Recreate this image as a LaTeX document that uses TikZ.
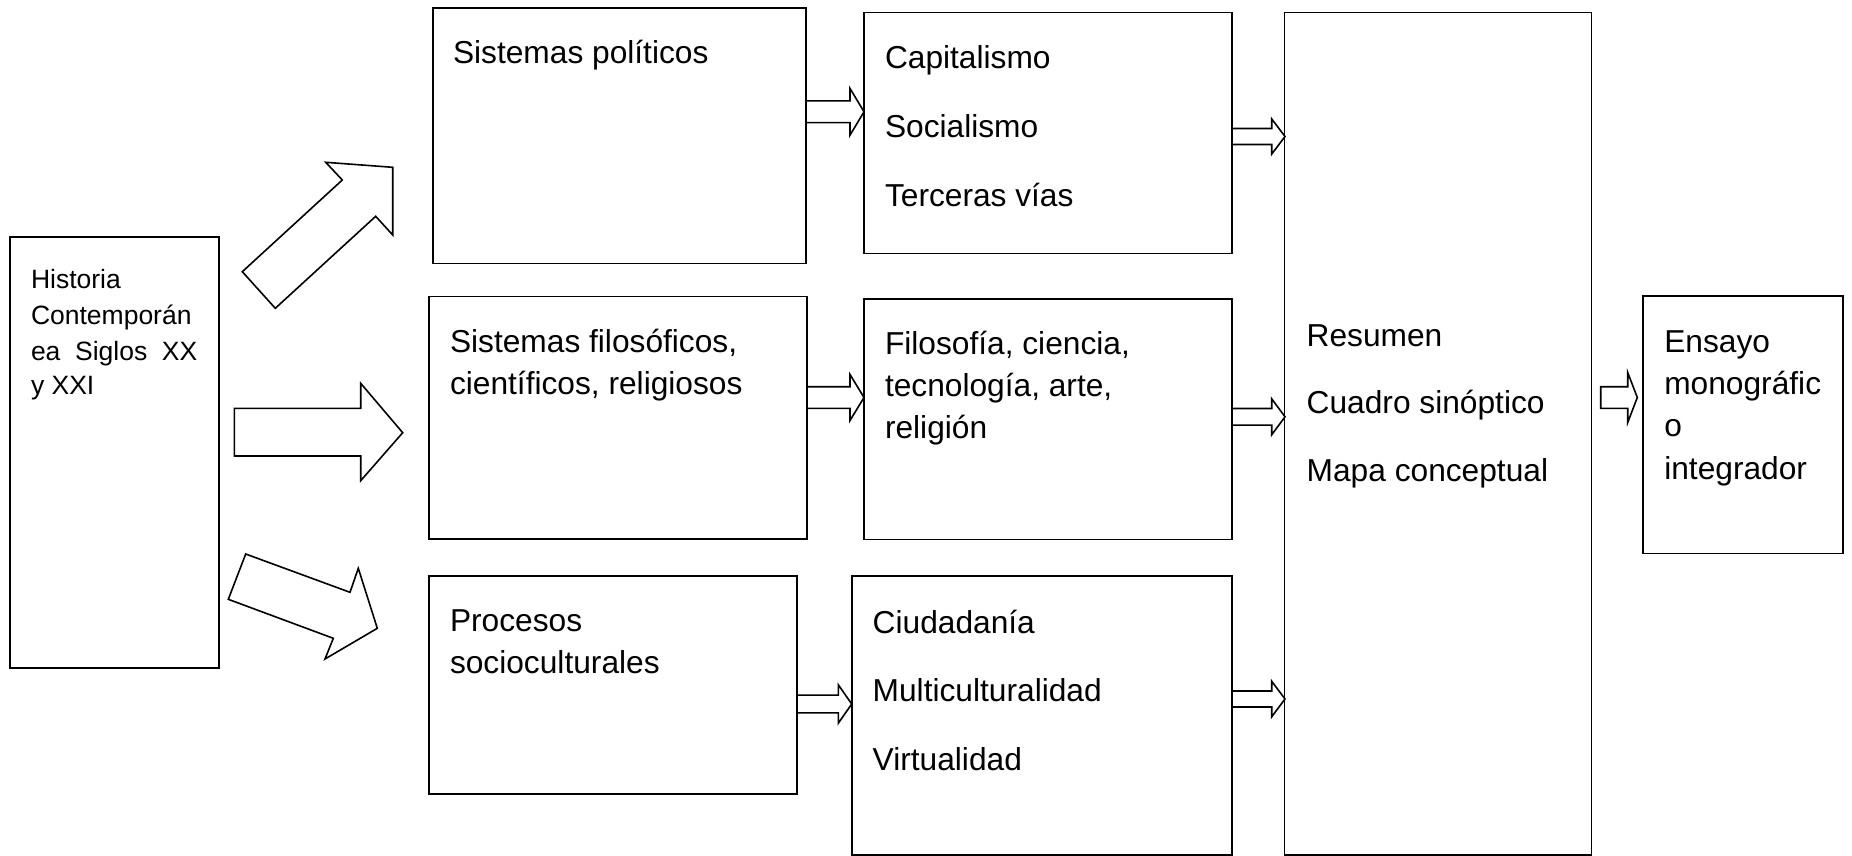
\documentclass[tikz,border=0pt]{standalone}
\usepackage{fontspec}
\setmainfont{Liberation Sans}[Ligatures=NoCommon]
\usetikzlibrary{calc}
\newcommand\mybox[5]{\node[boxst, minimum width={#4-#2}, minimum height={#5-#3}] (#1) at (#2,#3) {};}
% #1 start point, #2 length, #3 shaft half height, #4 head half height, #5 head length
\newcommand\blkarrow[5]{\draw[barrow] #1 ++(0,-#3) -- ++({#2-#5},0) -- ++(0,{-(#4-#3)}) -- ++(#5,#4) -- ++(-#5,#4) -- ++(0,{-(#4-#3)}) -- ++({-(#2-#5)},0) -- cycle;}
\begin{document}
\begin{tikzpicture}[x=1pt,y=-1pt,
  boxst/.style={draw, line width=1.6pt, inner sep=0pt, outer sep=0pt, anchor=north west},
  txt/.style={inner sep=0pt, outer sep=0pt, anchor=base west, font=\fontsize{31.7}{38}\selectfont},
  smalltxt/.style={txt, font=\fontsize{26.5}{32}\selectfont},
  barrow/.style={draw, line width=1.6pt, fill=white, line join=miter}]
\useasboundingbox[fill=white] (0,0) rectangle (1852,856);

% boxes
\mybox{hist}{10}{237}{219}{668}
\mybox{sp}{433}{8}{806}{263.5}
\mybox{sf}{429}{296.5}{807}{539}
\mybox{ps}{429}{576}{797}{794}
\mybox{cap}{864}{12.7}{1232}{253.5}
\mybox{fil}{864}{299}{1232}{539.3}
\mybox{ciu}{851.7}{576}{1232}{855}
\mybox{res}{1284.5}{12.7}{1591.5}{855}
\mybox{ens}{1642.7}{296}{1842.7}{553.3}

% texts
\node[smalltxt] (h1) at (31,288.5) {Historia};
\node[smalltxt] (h2) at (31,324) {Contemporán};
\node[smalltxt] (h3) at (31,360) {\hbox to 166.3pt{ea\hfill Siglos\hfill XX}};
\node[smalltxt] (h4) at (31,394) {y XXI};

\node[txt] (sp1) at (453,64) {Sistemas políticos};
\node[txt] (cap1) at (885,68.3) {Capitalismo};
\node[txt] (cap2) at (885,137.7) {Socialismo};
\node[txt] (cap3) at (885,206.7) {Terceras vías};
\node[txt] (sf1) at (450,352.7) {Sistemas filosóficos,};
\node[txt] (sf2) at (450,394.3) {científicos, religiosos};
\node[txt] (fil1) at (885,354) {Filosofía, ciencia,};
\node[txt] (fil2) at (885,396.7) {tecnología, arte,};
\node[txt] (fil3) at (885,438.3) {religión};
\node[txt] (ps1) at (450,631.7) {Procesos};
\node[txt] (ps2) at (450,673.3) {socioculturales};
\node[txt] (ciu1) at (872.7,633.3) {Ciudadanía};
\node[txt] (ciu2) at (872.7,701.7) {Multiculturalidad};
\node[txt] (ciu3) at (872.7,770.7) {Virtualidad};
\node[txt] (res1) at (1306.7,346) {Resumen};
\node[txt] (res2) at (1306.7,413.3) {Cuadro sinóptico};
\node[txt] (res3) at (1306.7,481.7) {Mapa conceptual};
\node[txt] (ens1) at (1664.3,352.7) {Ensayo};
\node[txt] (ens2) at (1664.3,394.3) {monográfic};
\node[txt] (ens3) at (1664.3,436.7) {o};
\node[txt] (ens4) at (1664.3,479.3) {integrador};

% big block arrows from Historia
\draw[barrow] (242.3,271.7) -- (342.3,180) -- (325.7,162.3) -- (392.7,167.3) -- (392.7,235) -- (375.7,216.3) -- (275.3,308.3) -- cycle;
\draw[barrow] (234.3,408.3) -- (360.7,408.3) -- (360.7,383.3) -- (402.7,432.7) -- (360.7,480.7) -- (360.7,456) -- (234.3,456) -- cycle;
\draw[barrow] (245.7,554) -- (350,592.3) -- (358.3,568.3) -- (377.3,628.3) -- (325,659) -- (333.3,638.3) -- (228.3,599.3) -- cycle;

% small block arrows between boxes
\blkarrow{([yshift=-103.8pt]sp.north east)}{58}{10.85}{23.35}{14}
\blkarrow{([yshift=-101pt]sf.north east)}{57}{10.8}{23}{14}
\blkarrow{([yshift=-128pt]ps.north east)}{54.7}{8.85}{19.2}{13.4}
\blkarrow{([yshift=-123.8pt]cap.north east)}{53}{8}{17.6}{13.3}
\blkarrow{([yshift=-117.8pt]fil.north east)}{53}{8.3}{18}{13.3}
\blkarrow{([yshift=-123pt]ciu.north east)}{53}{8}{17.8}{13.3}
\blkarrow{([xshift=9.2pt,yshift=-384.8pt]res.north east)}{36.6}{10.8}{25}{9.6}
\end{tikzpicture}
\end{document}
